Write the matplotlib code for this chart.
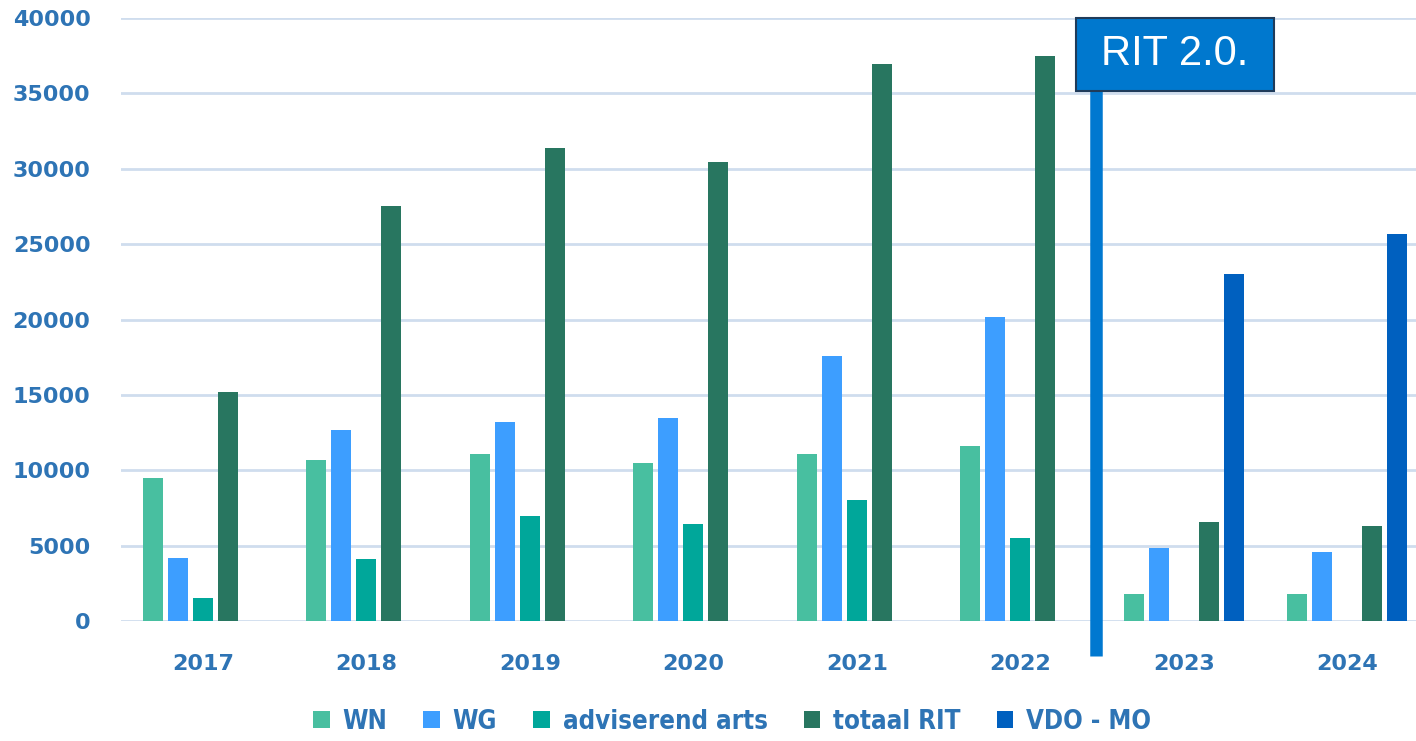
import numpy as np
import matplotlib.pyplot as plt
from matplotlib.patches import Rectangle

years   = ["2017", "2018", "2019", "2020", "2021", "2022", "2023", "2024"]
wn      = [9500, 10700, 11100, 10450, 11100, 11600, 1800, 1800]
wg      = [4200, 12700, 13200, 13500, 17600, 20200, 4850, 4600]
arts    = [1550, 4100, 7000, 6450, 8000, 5500, 0, 0]
totaal  = [15200, 27500, 31400, 30450, 36950, 37500, 6600, 6300]
vdo_mo  = [0, 0, 0, 0, 0, 0, 23000, 25700]
series  = [wn, wg, arts, totaal, vdo_mo]
names   = ["WN", "WG", "adviserend arts", "totaal RIT", "VDO - MO"]
colors  = ["#48BFA0", "#3D9EFF", "#00A79A", "#287660", "#0060BF"]

txt_blue = "#2E74B5"

fig = plt.figure(figsize=(14.16, 7.41), dpi=100)
ax = fig.add_axes([0.0855, 0.1619, 0.9145, 0.8138])

x = np.arange(len(years))
step = 0.153
width = 0.122
for i, (vals, nm, c) in enumerate(zip(series, names, colors)):
    ax.bar(x + (i - 2) * step, vals, width=width, color=c, label=nm, zorder=3)

ax.set_xlim(-0.5, 7.42)
ax.set_ylim(0, 40000)
ax.set_yticks(np.arange(0, 40001, 5000))
ax.set_xticks(x)
ax.set_xticklabels(years)
ax.grid(axis="y", color="#CFDDEE", lw=2, zorder=0)
ax.set_axisbelow(True)
for s in ax.spines.values():
    s.set_visible(False)
ax.tick_params(length=0, colors=txt_blue, labelsize=16)
ax.tick_params(axis="x", pad=24)
ax.tick_params(axis="y", pad=22)
for lb in ax.get_xticklabels() + ax.get_yticklabels():
    lb.set_fontweight("bold")

# RIT 2.0 marker
ax.plot([5.46, 5.46], [-2300, 35500], color="#0078D0", lw=9, solid_capstyle="butt",
        clip_on=False, zorder=4)
ax.add_patch(Rectangle((5.34, 35160), 1.21, 4840, facecolor="#0078CE", edgecolor="#1F3B5A",
                       lw=1.5, clip_on=False, zorder=5))
ax.text(5.945, 37580, "RIT 2.0.", color="white", fontsize=30, ha="center", va="center",
        family=["Liberation Sans", "DejaVu Sans"], zorder=6)

leg = fig.legend(loc="center", bbox_to_anchor=(0.517, 0.026), ncol=5, frameon=False,
                 handlelength=0.65, handleheight=0.65, handletextpad=0.5, columnspacing=1.4,
                 prop={"family": "DejaVu Sans", "stretch": "condensed", "weight": "bold", "size": 18.5})
for t in leg.get_texts():
    t.set_color(txt_blue)

plt.savefig("out.png", dpi=100)
